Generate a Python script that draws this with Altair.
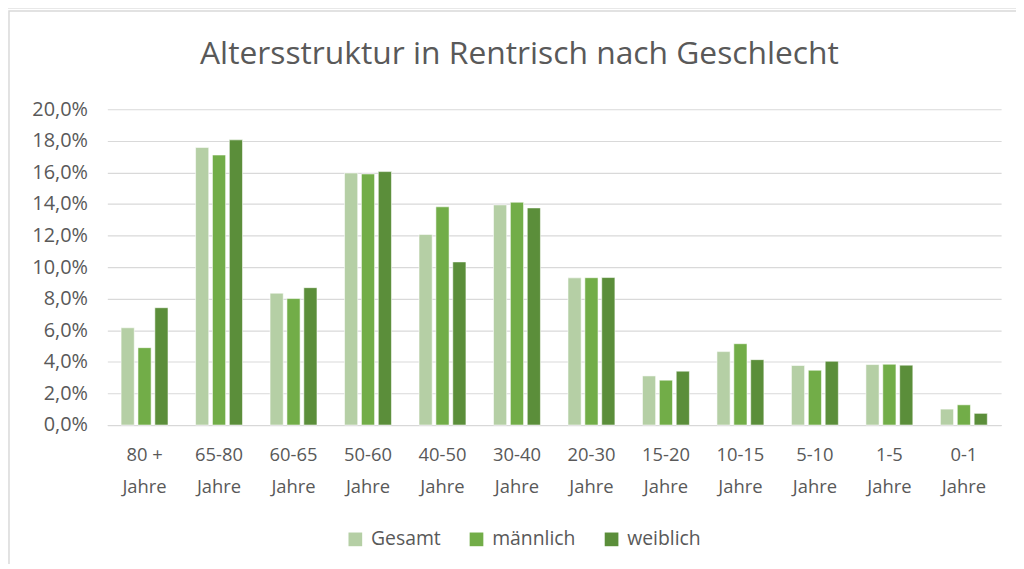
import altair as alt
import pandas as pd

categories = ["80 + Jahre", "65-80 Jahre", "60-65 Jahre", "50-60 Jahre", "40-50 Jahre",
              "30-40 Jahre", "20-30 Jahre", "15-20 Jahre", "10-15 Jahre", "5-10 Jahre",
              "1-5 Jahre", "0-1 Jahre"]
series = ["Gesamt", "männlich", "weiblich"]
gesamt = [6.16, 17.58, 8.35, 15.96, 12.07, 13.94, 9.32, 3.11, 4.65, 3.77, 3.83, 1.01]
maennlich = [4.90, 17.10, 8.01, 15.90, 13.82, 14.11, 9.33, 2.84, 5.15, 3.47, 3.85, 1.28]
weiblich = [7.43, 18.06, 8.70, 16.05, 10.33, 13.75, 9.34, 3.41, 4.14, 4.04, 3.79, 0.74]
colors = ["#b5cfa5", "#72ad48", "#5b8e3a"]
title_text = "Altersstruktur in Rentrisch nach Geschlecht"

rows = []
for name, vals in zip(series, [gesamt, maennlich, weiblich]):
    for c, v in zip(categories, vals):
        rows.append({"Altersgruppe": c, "Serie": name, "Anteil": v / 100})
df = pd.DataFrame(rows)

FONT = "Open Sans"
GREY = "#595959"

bars = alt.Chart(df).mark_bar(stroke="white", strokeWidth=0.8, strokeOpacity=0.7).encode(
    x=alt.X("Altersgruppe:N", sort=categories, title=None,
            scale=alt.Scale(paddingInner=0.37, paddingOuter=0.185),
            axis=alt.Axis(labelAngle=0, ticks=False, domainColor="#d9d9d9",
                          labelFont=FONT, labelFontSize=18.5, labelColor=GREY,
                          labelPadding=21, labelLineHeight=32,
                          labelExpr="[slice(datum.label, 0, indexof(datum.label, ' Jahre')), 'Jahre']")),
    xOffset=alt.XOffset("Serie:N", sort=series, scale=alt.Scale(paddingInner=0.22)),
    y=alt.Y("Anteil:Q", title=None,
            scale=alt.Scale(domain=[0, 0.2], nice=False),
            axis=alt.Axis(values=[i / 100 for i in range(0, 21, 2)],
                          labelExpr="replace(format(datum.value*100, '.1f'), '.', ',') + '%'",
                          ticks=False, domain=False, gridColor="#d9d9d9", gridWidth=1.2,
                          labelFont=FONT, labelFontSize=20, labelColor=GREY, labelPadding=20)),
    color=alt.Color("Serie:N", sort=series,
                    scale=alt.Scale(domain=series, range=colors),
                    legend=alt.Legend(title=None, orient="none", direction="horizontal",
                                      legendX=240, legendY=423,
                                      symbolType="square", symbolSize=190, symbolStrokeWidth=0,
                                      labelFont=FONT, labelFontSize=19.5, labelColor=GREY,
                                      labelOffset=6, columnPadding=26)),
)

one = pd.DataFrame({"t": [title_text]})
frame = alt.Chart(one).mark_rect(filled=False, stroke="#d9d9d9", strokeWidth=1.5).encode(
    x=alt.value(-99), x2=alt.value(960), y=alt.value(-99), y2=alt.value(520)
)
outer = alt.Chart(one).mark_rule(stroke="#e0e0e0", strokeWidth=1.5).encode(
    x=alt.value(-101), x2=alt.value(960), y=alt.value(-102)
)
title = alt.Chart(one).mark_text(font=FONT, fontSize=32, color=GREY, align="center",
                                 baseline="middle").encode(
    text="t:N", x=alt.value(415), y=alt.value(-56)
)

chart = alt.layer(frame, outer, title, bars).properties(
    width=900, height=318,
    padding={"left": 100, "top": 100, "right": 15, "bottom": 138},
    autosize=alt.AutoSizeParams(type="none"),
).configure_view(stroke=None)

chart.save("out.html", embed_options={"renderer": "svg", "actions": False})
